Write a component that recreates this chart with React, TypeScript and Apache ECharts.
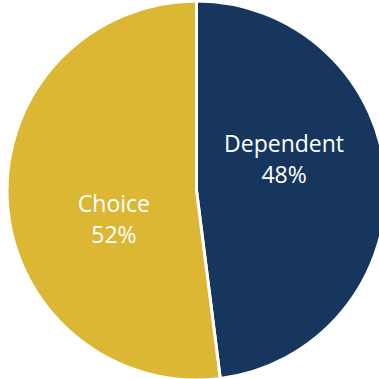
import React, { useEffect, useRef } from "react";
import * as echarts from "echarts";

const categories = ["Dependent", "Choice"];
const values = [48, 52];
const colors = ["#17365D", "#DBB734"];
const labelOffsets: [number, number][] = [[-10, -26], [15, 22]];

export default function App() {
  const ref = useRef<HTMLDivElement>(null);
  useEffect(() => {
    if (!ref.current) return;
    const chart = echarts.init(ref.current, undefined, { renderer: "svg" });
    chart.setOption({
      animation: false,
      series: [
        {
          type: "pie",
          center: [196.5, 190.5],
          radius: [0, 189.5],
          startAngle: 90,
          clockwise: true,
          avoidLabelOverlap: false,
          itemStyle: { borderColor: "#ffffff", borderWidth: 3 },
          label: {
            show: true,
            position: "inside",
            color: "#ffffff",
            fontFamily: "Open Sans",
            fontSize: 23,
            lineHeight: 31,
            formatter: (p: any) => `${p.name}\n${p.value}%`,
          },
          labelLine: { show: false },
          emphasis: { disabled: true },
          data: categories.map((c, i) => ({
            name: c,
            value: values[i],
            itemStyle: { color: colors[i] },
            label: { offset: labelOffsets[i] },
          })),
        },
      ],
    });
    return () => chart.dispose();
  }, []);
  return (
    <div
      ref={ref}
      style={{ position: "absolute", left: 0, top: 0, width: 379, height: 379, background: "#fff" }}
    />
  );
}
